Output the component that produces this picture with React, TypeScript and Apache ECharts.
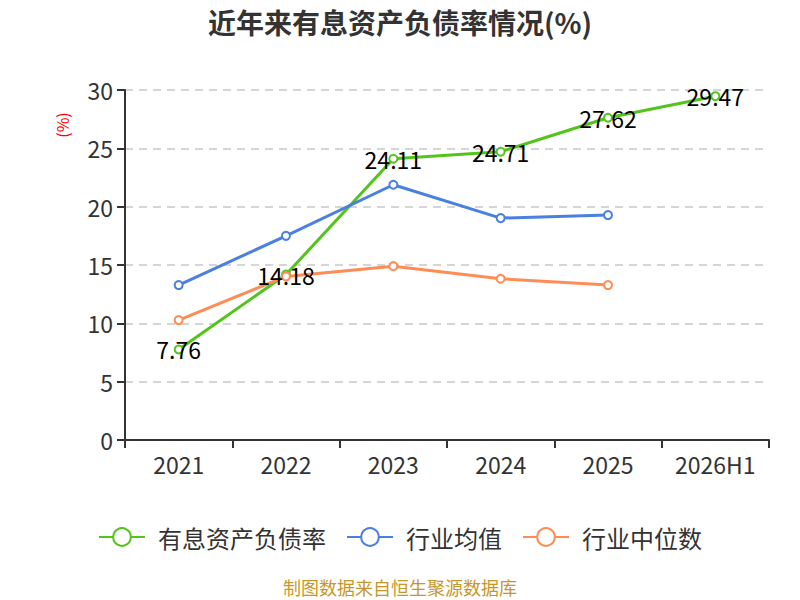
import React, { useEffect, useRef } from "react";
import * as echarts from "echarts";

const categories = ["2021", "2022", "2023", "2024", "2025", "2026H1"];
const ratioValues = [7.76, 14.18, 24.11, 24.71, 27.62, 29.47];
const industryAvg = [13.28, 17.5, 21.88, 19.02, 19.28, null];
const industryMedian = [10.28, 14.02, 14.9, 13.82, 13.28, null];
const seriesNames = ["有息资产负债率", "行业均值", "行业中位数"];

const FONT = "'Noto Sans CJK SC', 'Noto Sans', sans-serif";

export default function App() {
  const ref = useRef<HTMLDivElement>(null);
  useEffect(() => {
    if (!ref.current) return;
    const chart = echarts.init(ref.current, null, { renderer: "svg" });
    const colors = ["#52c41a", "#4a80e0", "#ff8c55"];
    const mk = (name: string, data: any[], color: string, label: boolean) => ({
      name,
      type: "line",
      data,
      symbol: "emptyCircle",
      symbolSize: 8,
      lineStyle: { width: 3, color },
      itemStyle: { color, borderWidth: 1.5 },
      label: label
        ? {
            show: true,
            position: "inside",
            fontSize: 23,
            color: "#000",
            fontFamily: FONT,
          }
        : { show: false },
    });
    chart.setOption({
      animation: false,
      textStyle: { fontFamily: FONT },
      color: colors,
      title: {
        text: "近年来有息资产负债率情况(%)",
        left: "center",
        top: 3,
        textStyle: { fontSize: 28, fontWeight: "bold", color: "#333", fontFamily: FONT },
      },
      grid: { left: 125, right: 31, top: 90, bottom: 160 },
      legend: {
        top: 520,
        left: "center",
        itemWidth: 46,
        itemHeight: 22,
        itemGap: 20,
        textStyle: {
          fontSize: 24,
          color: "#333",
          fontFamily: FONT,
          padding: [0, 0, 0, 8],
        },
        data: seriesNames,
      },
      xAxis: {
        type: "category",
        data: categories,
        boundaryGap: true,
        axisLine: { lineStyle: { color: "#333", width: 2 } },
        axisTick: { show: true, length: 8, lineStyle: { color: "#333", width: 2 } },
        axisLabel: { fontSize: 23, color: "#333", margin: 12, fontFamily: FONT },
      },
      yAxis: {
        type: "value",
        min: 0,
        max: 30,
        interval: 5,
        axisLine: { show: true, lineStyle: { color: "#333", width: 2 } },
        axisTick: { show: true, length: 8, lineStyle: { color: "#333", width: 2 } },
        axisLabel: { fontSize: 23, color: "#333", margin: 12, fontFamily: FONT },
        splitLine: { lineStyle: { type: [8, 6], color: "#c8c8c8", width: 1.5 } },
      },
      graphic: [
        {
          type: "text",
          x: 62,
          y: 125,
          rotation: Math.PI / 2,
          style: {
            text: "(%)",
            fill: "#ff0000",
            fontSize: 16,
            fontFamily: FONT,
            align: "center",
            verticalAlign: "middle",
          },
        },
        {
          type: "text",
          left: "center",
          top: 578,
          style: {
            text: "制图数据来自恒生聚源数据库",
            fill: "#c8962a",
            fontSize: 18,
            fontFamily: FONT,
          },
        },
      ],
      series: [
        mk(seriesNames[0], ratioValues, colors[0], true),
        mk(seriesNames[1], industryAvg, colors[1], false),
        mk(seriesNames[2], industryMedian, colors[2], false),
      ],
    });
    return () => chart.dispose();
  }, []);
  return (
    <div
      ref={ref}
      style={{ width: 800, height: 600, position: "absolute", left: 0, top: 0 }}
    />
  );
}
